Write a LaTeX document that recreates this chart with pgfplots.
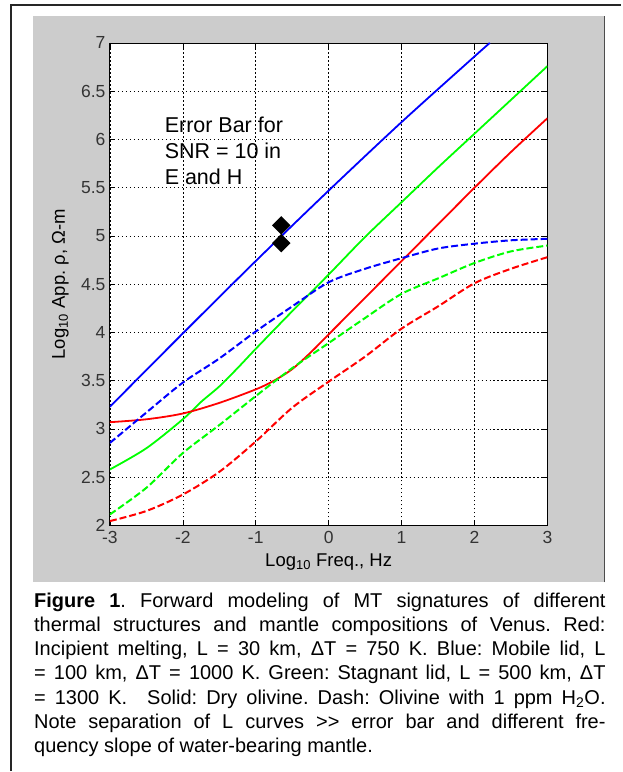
\documentclass[border=0pt]{standalone}
\usepackage{pgfplots}
\pgfplotsset{compat=1.18}
\usepackage{fontspec}
\setmainfont{Liberation Sans}
\definecolor{figgray}{HTML}{CCCCCC}
\definecolor{tickgray}{HTML}{333333}

\begin{document}
\frenchspacing
\begin{tikzpicture}[x=1pt,y=1pt]
% page 622 x 772, figure frame and gray figure window
\path[fill=white] (0,0) rectangle (622,772);
\fill[figgray] (33,189) rectangle (605,756);
\draw[black!70, line width=1pt] (605,189) -- (605,756);
\draw[black!85, line width=1.6pt] (11,0) -- (11,767) -- (622,767);

\begin{axis}[
    at={(110pt,246pt)}, anchor=south west,
    width=438pt, height=483pt, scale only axis,
    xmin=-3, xmax=3, ymin=2, ymax=7,
    axis background/.style={fill=white},
    axis line style={black, line width=0.8pt},
    xtick={-3,-2,-1,0,1,2,3},
    xticklabels={-3,-2,-1,0,1,2,3},
    ytick={2,2.5,3,3.5,4,4.5,5,5.5,6,6.5,7},
    yticklabels={2,2.5,3,3.5,4,4.5,5,5.5,6,6.5,7},
    tick align=inside, major tick length=5pt,
    tick style={black, line width=0.6pt},
    ticklabel style={font=\fontsize{17.5}{20}\selectfont, text=tickgray},
    xticklabel style={yshift=-2.5pt},
    yticklabel style={xshift=-1pt},
    grid=major,
    major grid style={black, line width=0.6pt, dash pattern=on 1.5pt off 2.5pt},
    xlabel={Log\textsubscript{10} Freq., Hz},
    ylabel={Log\textsubscript{10} App. ρ, Ω-m},
    label style={font=\fontsize{18.5}{21}\selectfont},
    xlabel style={at={(axis description cs:0.5,-0.085)}, anchor=base},
    ylabel style={at={(axis description cs:-0.103,0.5)}, anchor=base},
    clip=true,
  ]
  % dry olivine (solid)
  \addplot[blue, line width=1.8pt, smooth] coordinates {
    (-3,3.23) (-2,3.99) (-1,4.74) (0,5.47) (1,6.18) (2,6.86) (2.21,7.0)};
  \addplot[green, line width=1.8pt, smooth] coordinates {
    (-3,2.58) (-2.5,2.8) (-2,3.1) (-1.75,3.28) (-1.5,3.44) (-1.25,3.63)
    (-1,3.83) (-0.5,4.22) (0,4.6) (0.5,4.99) (1,5.35) (1.5,5.71)
    (2,6.06) (2.5,6.41) (3,6.76)};
  \addplot[red, line width=1.8pt, smooth] coordinates {
    (-3,3.07) (-2.5,3.1) (-2,3.16) (-1.5,3.27) (-1,3.41) (-0.75,3.5)
    (-0.5,3.62) (-0.25,3.79) (0,3.98) (0.25,4.17) (0.5,4.36) (1,4.74)
    (1.5,5.12) (2,5.5) (2.5,5.87) (3,6.22)};
  % olivine with 1 ppm H2O (dashed)
  \addplot[blue, line width=2pt, smooth, dash pattern=on 7pt off 3pt] coordinates {
    (-3,2.855) (-2.5,3.17) (-2,3.48) (-1.5,3.73) (-1,4.01) (-0.5,4.27)
    (0,4.52) (0.5,4.66) (1,4.77) (1.5,4.87) (2,4.92) (2.5,4.955) (3,4.97)};
  \addplot[green, line width=2pt, smooth, dash pattern=on 7pt off 3pt] coordinates {
    (-3,2.114) (-2.5,2.39) (-2,2.75) (-1.5,3.04) (-1,3.34) (-0.5,3.63)
    (0,3.89) (0.5,4.15) (1,4.4) (1.5,4.56) (2,4.72) (2.5,4.84) (3,4.9)};
  \addplot[red, line width=2pt, smooth, dash pattern=on 7pt off 3pt] coordinates {
    (-3,2.045) (-2.5,2.15) (-2,2.32) (-1.5,2.555) (-1,2.87) (-0.5,3.22)
    (0,3.49) (0.5,3.75) (1,4.04) (1.5,4.27) (2,4.51) (2.5,4.66) (3,4.78)};
  % error bar
  \addplot[black, line width=1.5pt, mark=square*, mark size=5.8pt,
    mark options={rotate=45, solid}] coordinates {(-0.65,5.11) (-0.65,4.925)};
  \node[anchor=base west, align=left, inner sep=0pt,
    font=\fontsize{21.5}{26}\selectfont] at (axis cs:-2.25,5.53)
    {Error Bar for\\SNR = 10 in\\E and H};
\end{axis}

% caption
\node[anchor=north west, inner sep=0pt, text width=572pt, align=justify,
  font=\fontsize{20}{24.3}\selectfont] at (34,179) {%
\textbf{Figure 1}. Forward modeling of MT signatures of different\linebreak
thermal structures and mantle compositions of Venus. Red:\linebreak
Incipient melting, L = 30 km, ΔT = 750 K. Blue: Mobile lid, L\linebreak
= 100 km, ΔT = 1000 K. Green: Stagnant lid, L = 500 km, ΔT\linebreak
= 1300 K.\quad Solid: Dry olivine. Dash: Olivine with 1 ppm H\textsubscript{2}O.\linebreak
Note separation of L curves >\kern0pt> error bar and different fre-\linebreak
quency slope of water-bearing mantle.};
\end{tikzpicture}
\end{document}
